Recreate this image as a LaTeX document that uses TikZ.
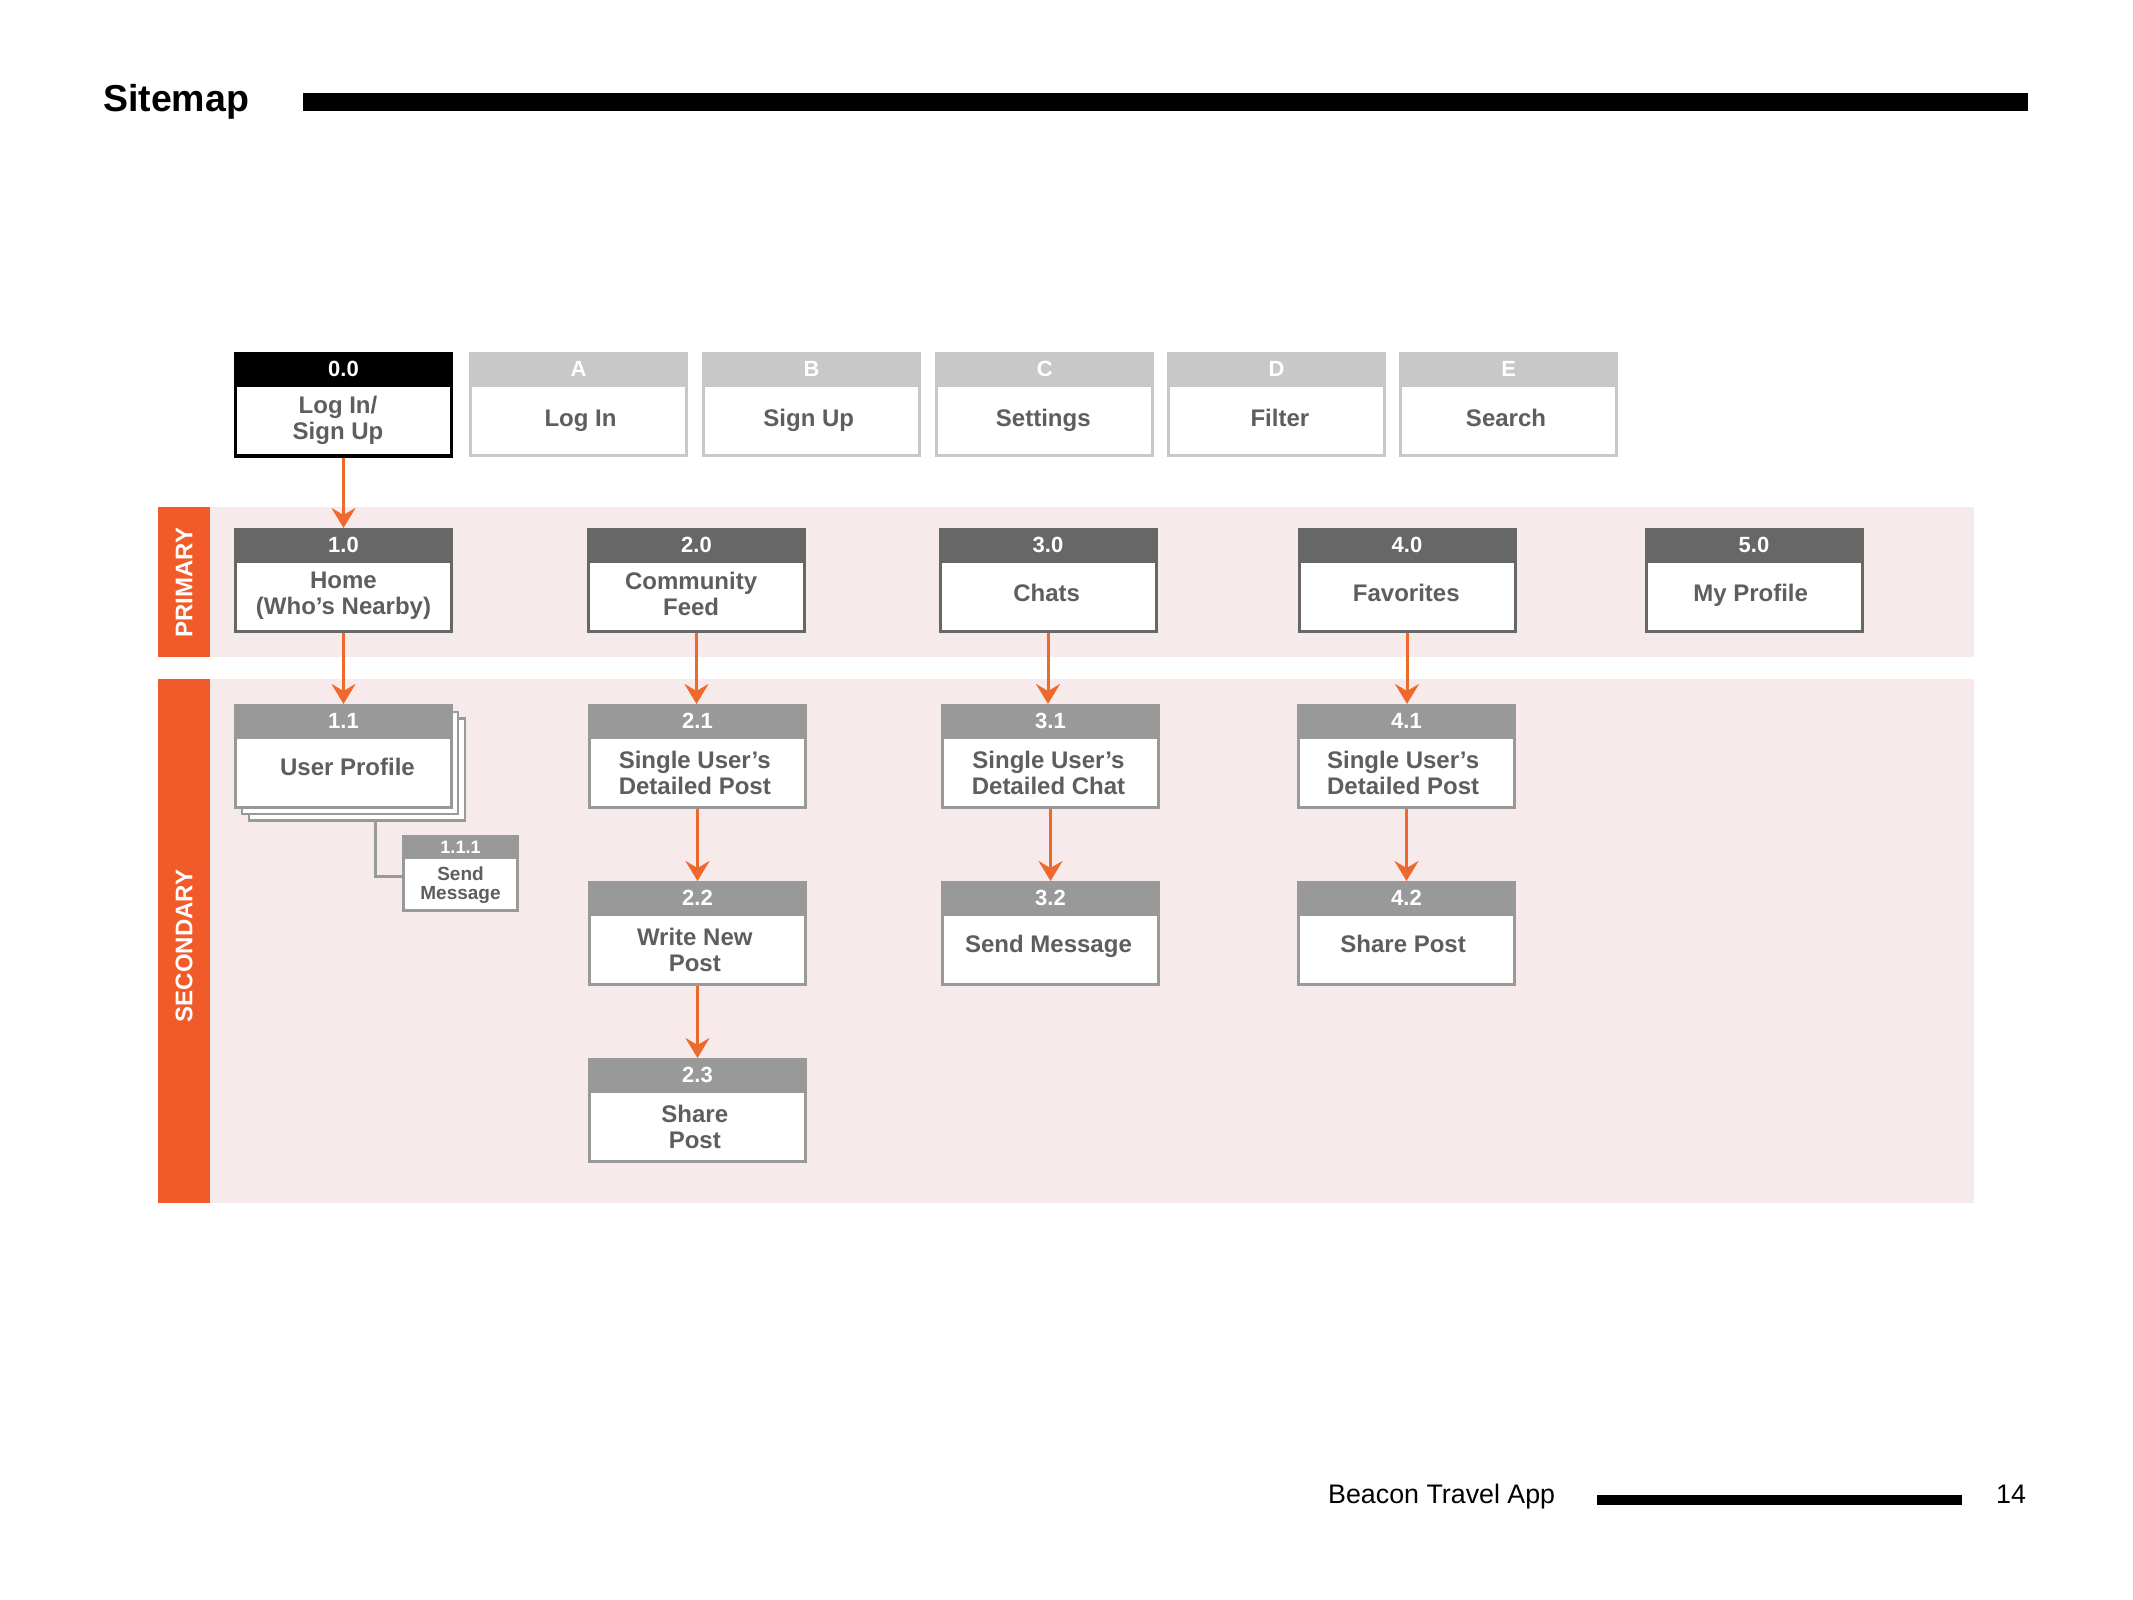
\documentclass[tikz,border=0pt]{standalone}
\usepackage{fontspec}
\setmainfont{Liberation Sans}
\usetikzlibrary{arrows.meta}

\definecolor{accent}{HTML}{F15A29}
\definecolor{flowc}{HTML}{EE6A2C}
\definecolor{bandc}{HTML}{F7EAEA}
\definecolor{hdark}{HTML}{676767}
\definecolor{hmid}{HTML}{999999}
\definecolor{hlight}{HTML}{C8C8C8}
\definecolor{ink}{HTML}{5E5E5E}

\tikzset{
  basebox/.style={fill=white, minimum width=216pt, minimum height=102pt,
    anchor=north, inner sep=0pt},
  rootbox/.style={basebox, draw=black, line width=3.5pt},
  roothead/.style={fill=black},
  optbox/.style={basebox, draw=hlight, line width=3pt},
  opthead/.style={fill=hlight},
  primbox/.style={basebox, draw=hdark, line width=3pt},
  primhead/.style={fill=hdark},
  secbox/.style={basebox, draw=hmid, line width=2.8pt},
  sechead/.style={fill=hmid},
  headtext/.style={text=white, font=\fontsize{22}{24}\selectfont\bfseries, inner sep=0pt},
  bodytext/.style={text=ink, align=center, inner sep=0pt, text depth=5pt,
    font=\fontsize{24}{26}\selectfont\bfseries},
  flow/.style={draw=flowc, line width=3pt,
    -{Stealth[length=20pt, width=24pt, inset=7pt, fill=flowc]}},
  link/.style={draw=hmid, line width=2.7pt},
  bandlabel/.style={text=white, rotate=90, font=\fontsize{24}{26}\selectfont\bfseries},
}

% \sitebox{name}{kind}{centre x}{top y}{number}{title}{title y offset}{title x offset}
\newcommand\sitebox[8]{%
  \node[#2box] (#1) at (#3,#4) {};
  \fill[#2head] (#1.north west) rectangle ([yshift=-35pt]#1.north east);
  \node[headtext] (#1-num) at ({#3},{#4+16.5}) {#5};
  \node[bodytext] (#1-title) at ({#3+#8},{#4+#7}) {#6};
}

\begin{document}
\begin{tikzpicture}[x=1pt, y=-1pt]
\useasboundingbox (0,0) rectangle (2133,1600);
\fill[white] (0,0) rectangle (2133,1600);

% page heading
\node[anchor=base west, inner sep=0pt, font=\fontsize{37.5}{40}\selectfont\bfseries] (heading) at (103,111.7) {Sitemap};
\fill[black] (303,92.7) rectangle (2028,111);

% level bands
\fill[bandc] (158,506.7) rectangle (1974,656.7);
\fill[accent] (158,506.7) rectangle (210,656.7);
\node[bandlabel] (primlabel) at (184,582.5) {PRIMARY};
\fill[bandc] (158,679) rectangle (1974,1202.5);
\fill[accent] (158,679) rectangle (210,1202.5);
\node[bandlabel] (seclabel) at (184,946) {SECONDARY};

% entry and utility screens
\sitebox{n00}{root}{343.5}{352}{0.0}{Log In/\\Sign Up}{68}{-5.5}
\sitebox{nA}{opt}{578.5}{352}{A}{Log In}{68.5}{2}
\sitebox{nB}{opt}{811.5}{352}{B}{Sign Up}{68.5}{-2.7}
\sitebox{nC}{opt}{1044.7}{352}{C}{Settings}{68.5}{-1.4}
\sitebox{nD}{opt}{1276.5}{352}{D}{Filter}{68.5}{3.4}
\sitebox{nE}{opt}{1508.7}{352}{E}{Search}{68.5}{-2.7}

% primary screens
\sitebox{n10}{prim}{343.5}{528}{1.0}{Home\\(Who’s Nearby)}{68}{0}
\sitebox{n20}{prim}{696.5}{528}{2.0}{Community\\Feed}{68}{-5.4}
\sitebox{n30}{prim}{1048}{528}{3.0}{Chats}{67.5}{-1.4}
\sitebox{n40}{prim}{1407}{528}{4.0}{Favorites}{67.5}{-0.7}
\sitebox{n50}{prim}{1754}{528}{5.0}{My Profile}{67.5}{-3.4}

% stacked user profile pages
\node[basebox, draw=hmid, line width=2.5pt] (p11c) at (356.8,717.3) {};
\node[basebox, draw=hmid, line width=2.5pt] (p11b) at (350.1,710.6) {};

% secondary screens
\sitebox{n11}{sec}{343.5}{704}{1.1}{User Profile}{65.5}{4}
\sitebox{n21}{sec}{697.5}{704}{2.1}{Single User’s\\Detailed Post}{71.5}{-2.7}
\sitebox{n22}{sec}{697.5}{881}{2.2}{Write New\\Post}{71.5}{-2.7}
\sitebox{n23}{sec}{697.5}{1058}{2.3}{Share\\Post}{71.5}{-2.7}
\sitebox{n31}{sec}{1050.5}{704}{3.1}{Single User’s\\Detailed Chat}{71.5}{-2}
\sitebox{n32}{sec}{1050.5}{881}{3.2}{Send Message}{65.5}{-2}
\sitebox{n41}{sec}{1406.5}{704}{4.1}{Single User’s\\Detailed Post}{71.5}{-3.4}
\sitebox{n42}{sec}{1406.5}{881}{4.2}{Share Post}{65.5}{-3.4}

% small message box
\node[basebox, draw=hmid, line width=2.7pt, minimum width=114.4pt, minimum height=74.3pt] (n111) at (460.5,835) {};
\fill[sechead] (n111.north west) rectangle ([yshift=-24pt]n111.north east);
\node[headtext, font=\fontsize{18}{20}\selectfont\bfseries] (n111-num) at (460.5,847) {1.1.1};
\node[bodytext, text depth=0pt, font=\fontsize{19}{18.7}\selectfont\bfseries] (n111-title) at (460.5,883) {Send\\Message};

% connectors
\coordinate (bend) at (375.3,876.7);
\draw[link] (bend |- p11c.south) -- (bend) -- (bend -| n111.west);

\draw[flow] (n00.south) -- (n00.south |- n10.north);
\draw[flow] (n10.south) -- (n10.south |- n11.north);
\draw[flow] (n20.south) -- (n20.south |- n21.north);
\draw[flow] (n30.south) -- (n30.south |- n31.north);
\draw[flow] (n40.south) -- (n40.south |- n41.north);
\draw[flow] (n21.south) -- (n22.north);
\draw[flow] (n22.south) -- (n23.north);
\draw[flow] (n31.south) -- (n32.north);
\draw[flow] (n41.south) -- (n42.north);

% footer
\node[anchor=base west, inner sep=0pt, font=\fontsize{26.8}{28}\selectfont] (footer) at (1328,1503.3) {Beacon Travel App};
\fill[black] (1597,1495) rectangle (1962,1505);
\node[anchor=base west, inner sep=0pt, font=\fontsize{26.8}{28}\selectfont] (pagenum) at (1996,1503.3) {14};
\end{tikzpicture}
\end{document}
